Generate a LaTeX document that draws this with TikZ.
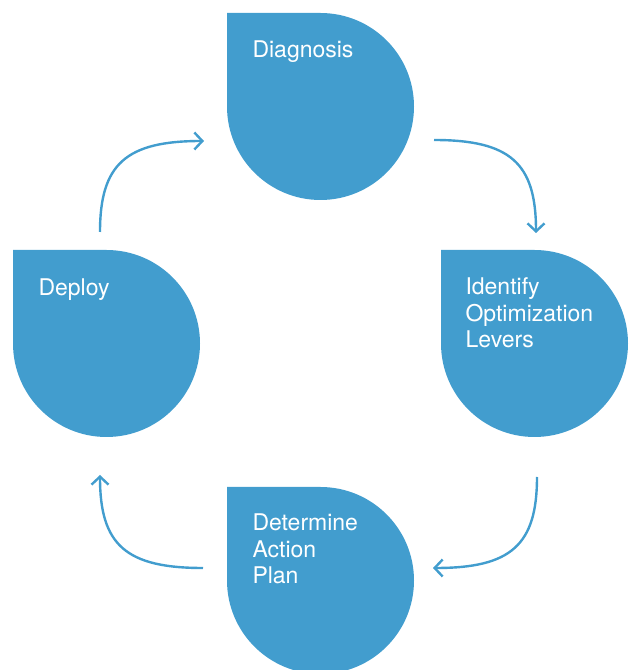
\documentclass[tikz,border=0pt]{standalone}
\usepackage{fontspec}
\setmainfont{TeX Gyre Heros}
\usetikzlibrary{arrows.meta,calc}
\definecolor{dropblue}{RGB}{66,157,206}
\begin{document}
\begin{tikzpicture}[x=1pt,y=1pt,
  drop/.style={minimum width=187pt, minimum height=187pt, inner sep=0pt, draw=none,
    path picture={\fill[dropblue] (path picture bounding box.north west)
      -- (path picture bounding box.north) arc[start angle=90, end angle=-180, radius=93.5pt] -- cycle;}},
  droptext/.style={anchor=base west, inner sep=0pt, text=white,
    font=\fontsize{23}{26.5}\selectfont},
  cyc/.style={draw=dropblue, line width=2.4pt,
    -{Straight Barb[length=8pt,width=17pt,line width=2.4pt]}}]
\useasboundingbox (0,0) rectangle (633,670);
\clip (0,0) rectangle (633,670);
% shapes
\node[drop] (diag) at (320.5,563.5) {};
\node[drop] (ident) at (534.5,326.5) {};
\node[drop] (deploy) at (106.5,326.5) {};
\node[drop] (determ) at (320.5,89.5) {};
% texts
\node[droptext] (diagT) at ($(diag.north west)+(25.5,-45)$) {Diagnosis};
\node[droptext] (identT) at ($(ident.north west)+(24.5,-45)$)
  {\begin{tabular}[t]{@{}l@{}}Identify\\Optimization\\Levers\end{tabular}};
\node[droptext] (deployT) at ($(deploy.north west)+(25.5,-46)$) {Deploy};
\node[droptext] (determT) at ($(determ.north west)+(25.5,-44)$)
  {\begin{tabular}[t]{@{}l@{}}Determine\\Action\\Plan\end{tabular}};
% connector ends
\coordinate (a1s) at (100,438);
\coordinate (a1e) at (204,529);
\coordinate (a2s) at (434,530);
\coordinate (a2e) at (536,437);
\coordinate (a3s) at (537,193);
\coordinate (a3e) at (433,102);
\coordinate (a4s) at (203,102);
\coordinate (a4e) at (100,195);
% connectors
\draw[cyc] (a1s) .. controls (100,506) and (126,529) .. (a1e);
\draw[cyc] (a2s) .. controls (510,530) and (536,507) .. (a2e);
\draw[cyc] (a3s) .. controls (537,125) and (511,102) .. (a3e);
\draw[cyc] (a4s) .. controls (126,102) and (100,125) .. (a4e);
\end{tikzpicture}
\end{document}
